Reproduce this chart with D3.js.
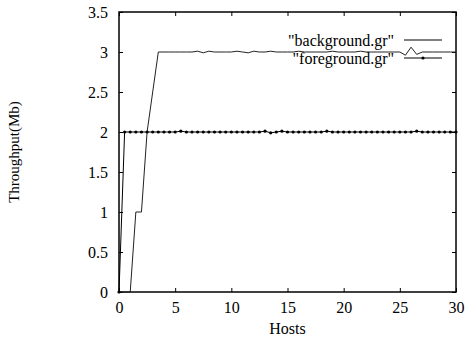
<!DOCTYPE html>
<html>
<head>
<meta charset="utf-8">
<script src="https://cdn.jsdelivr.net/npm/d3@7"></script>
<style>
  body { margin: 0; background: #fff; }
  svg text { font-family: "Liberation Serif", "DejaVu Serif", serif; fill: #000; }
</style>
</head>
<body>
<svg id="chart" width="475" height="341"></svg>
<script>
// hosts sampled every half step
var hosts = [0, 0.5, 1, 1.5, 2, 2.5, 3, 3.5, 4, 4.5, 5, 5.5, 6, 6.5, 7, 7.5, 8, 8.5, 9, 9.5,
  10, 10.5, 11, 11.5, 12, 12.5, 13, 13.5, 14, 14.5, 15, 15.5, 16, 16.5, 17, 17.5, 18, 18.5, 19, 19.5,
  20, 20.5, 21, 21.5, 22, 22.5, 23, 23.5, 24, 24.5, 25, 25.5, 26, 26.5, 27, 27.5, 28, 28.5, 29, 29.5, 30];

var background = [0, 0, 0, 1, 1, 2, 2.5, 3, 3, 3, 3, 3, 3, 3, 3.01, 2.99, 3.01, 3, 3, 3,
  3, 3.01, 3, 2.99, 3.01, 3, 3, 3.01, 3, 3, 3, 3, 3.01, 3, 3, 3, 3, 3, 3.01, 3,
  3, 3, 3, 3.01, 3, 3, 3, 3, 3, 3, 3, 2.96, 3.06, 2.97, 3, 3, 3, 3, 3, 3, 3];

var foreground = [0, 2, 2, 2, 2, 2, 2, 2, 2, 2, 2, 2.01, 2, 2, 2, 2, 2, 2, 2, 2,
  2, 2, 2, 2, 2, 2, 2.01, 1.99, 2, 2.01, 2, 2, 2, 2, 2, 2, 2, 2.01, 2, 2,
  2, 2, 2, 2, 2, 2, 2, 2, 2, 2, 2, 2, 2, 2.01, 2, 2, 2, 2, 2, 2, 2];

var seriesNames = ['"background.gr"', '"foreground.gr"'];
var xTicks = [0, 5, 10, 15, 20, 25, 30];
var yTicks = [0, 0.5, 1, 1.5, 2, 2.5, 3, 3.5];

var svg = d3.select("#chart");
var plotL = 119, plotR = 456, plotT = 12, plotB = 292;

var x = d3.scaleLinear().domain([0, 30]).range([plotL, plotR]);
var y = d3.scaleLinear().domain([0, 3.5]).range([plotB, plotT]);

// frame
svg.append("rect")
  .attr("x", plotL).attr("y", plotT)
  .attr("width", plotR - plotL).attr("height", plotB - plotT)
  .attr("fill", "none").attr("stroke", "#000").attr("stroke-width", 1.5);

// axes with inward ticks, mirrored on the other sides
var fmt = function (d) { return String(d); };
var gx = svg.append("g").attr("transform", "translate(0," + plotB + ")")
  .call(d3.axisBottom(x).tickValues(xTicks).tickSize(-4).tickPadding(10).tickFormat(fmt));
var gx2 = svg.append("g").attr("transform", "translate(0," + plotT + ")")
  .call(d3.axisTop(x).tickValues(xTicks).tickSize(-4).tickFormat(""));
var gy = svg.append("g").attr("transform", "translate(" + plotL + ",0)")
  .call(d3.axisLeft(y).tickValues(yTicks).tickSize(-4).tickPadding(11).tickFormat(fmt));
var gy2 = svg.append("g").attr("transform", "translate(" + plotR + ",0)")
  .call(d3.axisRight(y).tickValues(yTicks).tickSize(-4).tickFormat(""));

[gx, gx2, gy, gy2].forEach(function (g) {
  g.select(".domain").remove();
  g.selectAll("line").attr("stroke", "#000").attr("stroke-width", 1);
  g.selectAll("text").attr("font-family", "Liberation Serif, serif").attr("font-size", 16).attr("fill", "#000");
});
gy.selectAll("text").attr("dy", "0.35em");

// axis titles
svg.append("text")
  .attr("transform", "translate(19," + ((plotT + plotB) / 2) + ") rotate(-90)")
  .attr("text-anchor", "middle").attr("font-size", 15)
  .text("Throughput(Mb)");
svg.append("text")
  .attr("x", (plotL + plotR) / 2).attr("y", 334)
  .attr("text-anchor", "middle").attr("font-size", 16)
  .text("Hosts");

var line = d3.line()
  .x(function (d) { return x(d[0]); })
  .y(function (d) { return y(d[1]); });

var bgData = hosts.map(function (h, i) { return [h, background[i]]; });
var fgData = hosts.map(function (h, i) { return [h, foreground[i]]; });

svg.append("path").datum(bgData)
  .attr("d", line).attr("fill", "none").attr("stroke", "#222").attr("stroke-width", 1);

svg.append("path").datum(fgData)
  .attr("d", line).attr("fill", "none").attr("stroke", "#000").attr("stroke-width", 1);

svg.append("g").selectAll("circle").data(fgData).enter().append("circle")
  .attr("cx", function (d) { return x(d[0]); })
  .attr("cy", function (d) { return y(d[1]); })
  .attr("r", 1.6).attr("fill", "#000");

// legend
var legend = svg.append("g");
var legY = [40, 58];
seriesNames.forEach(function (name, i) {
  legend.append("text")
    .attr("x", 394).attr("y", legY[i]).attr("dy", "0.35em")
    .attr("text-anchor", "end").attr("font-size", 16)
    .text(name);
  legend.append("line")
    .attr("x1", 404).attr("x2", 442).attr("y1", legY[i]).attr("y2", legY[i])
    .attr("stroke", "#000").attr("stroke-width", 1);
  if (i === 1) {
    legend.append("circle").attr("cx", 423).attr("cy", legY[i]).attr("r", 1.6).attr("fill", "#000");
  }
});
</script>
</body>
</html>
